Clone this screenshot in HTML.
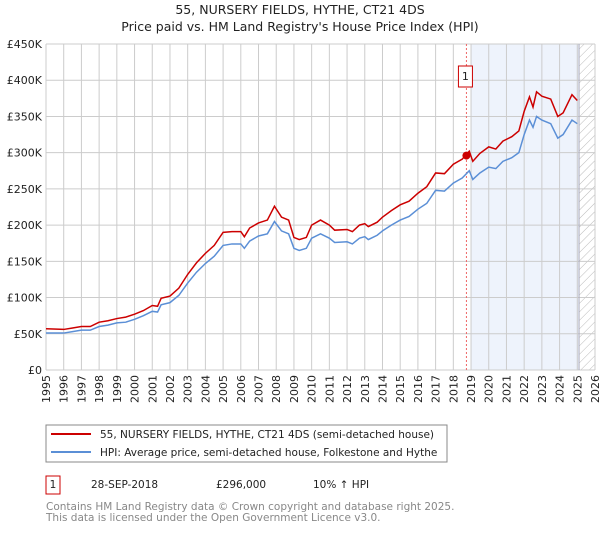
<!DOCTYPE html>
<html><head><meta charset="utf-8"><style>
body{margin:0;background:#fff;font-family:"Liberation Sans","DejaVu Sans",sans-serif;}
svg text{font-family:"DejaVu Sans","Liberation Sans",sans-serif;}
</style></head><body>
<svg id="chart" width="600" height="530" xmlns="http://www.w3.org/2000/svg">
<text x="300" y="14" text-anchor="middle" font-size="12.5" fill="#222">55, NURSERY FIELDS, HYTHE, CT21 4DS</text>
<text x="300" y="31" text-anchor="middle" font-size="12.5" fill="#222">Price paid vs. HM Land Registry's House Price Index (HPI)</text>
<defs><pattern id="hatch" width="6" height="6" patternUnits="userSpaceOnUse" patternTransform="rotate(45)"><line x1="0" y1="0" x2="0" y2="6" stroke="#bbb" stroke-width="1"/></pattern></defs>
<g id="grid"></g>
<g id="series"></g>
<g id="axes"></g>
<rect x="46" y="425" width="401" height="37" fill="#fff" stroke="#888"/>
<line x1="51" y1="434" x2="91" y2="434" stroke="#cc0000" stroke-width="2"/>
<text x="100" y="438" font-size="10.5" fill="#222">55, NURSERY FIELDS, HYTHE, CT21 4DS (semi-detached house)</text>
<line x1="51" y1="452" x2="91" y2="452" stroke="#5b8fd6" stroke-width="2"/>
<text x="100" y="456" font-size="10.5" fill="#222">HPI: Average price, semi-detached house, Folkestone and Hythe</text>
<rect x="46" y="476" width="14" height="18" fill="#fff" stroke="#cc0000"/>
<text x="53" y="488" text-anchor="middle" font-size="10.5" fill="#222">1</text>
<text x="91" y="488" font-size="10.5" fill="#222">28-SEP-2018</text>
<text x="216" y="488" font-size="10.5" fill="#222">£296,000</text>
<text x="313" y="488" font-size="10.5" fill="#222">10% ↑ HPI</text>
<text x="46" y="510" font-size="10.5" fill="#888">Contains HM Land Registry data © Crown copyright and database right 2025.</text>
<text x="46" y="521" font-size="10.5" fill="#888">This data is licensed under the Open Government Licence v3.0.</text>
</svg>
<script>
const hpiYears=[1995,1996,1996.5,1997,1997.5,1998,1998.5,1999,1999.5,2000,2000.5,2001,2001.3,2001.5,2002,2002.5,2003,2003.5,2004,2004.5,2005,2005.5,2006,2006.2,2006.5,2007,2007.5,2007.9,2008.3,2008.7,2009,2009.3,2009.7,2010,2010.5,2011,2011.3,2012,2012.3,2012.7,2013,2013.2,2013.7,2014,2014.5,2015,2015.5,2016,2016.5,2017,2017.5,2018,2018.5,2018.9,2019.1,2019.5,2020,2020.4,2020.8,2021.3,2021.7,2022,2022.3,2022.5,2022.7,2023,2023.5,2023.9,2024.2,2024.7,2025];
const hpiValues=[51,51,53,55,55,60,62,65,66,70,75,81,80,90,93,103,120,135,147,157,172,174,174,168,178,185,188,205,192,188,168,165,168,182,188,182,176,177,174,182,184,180,186,192,200,207,212,222,230,248,247,258,265,275,263,272,280,278,288,293,300,325,345,335,350,345,340,320,325,345,340];
const propValues=[57,56,58,60,60,66,68,71,73,77,82,89,88,99,102,113,132,148,161,172,190,191,191,184,196,203,207,226,211,207,183,180,183,200,207,200,193,194,191,200,202,198,204,211,220,228,233,244,253,272,271,284,291,302,288,299,308,305,316,322,330,357,377,363,384,378,374,350,355,380,372];
const yTicks=[0,50,100,150,200,250,300,350,400,450];
const yLabels=["£0","£50K","£100K","£150K","£200K","£250K","£300K","£350K","£400K","£450K"];
const xYears=[1995,1996,1997,1998,1999,2000,2001,2002,2003,2004,2005,2006,2007,2008,2009,2010,2011,2012,2013,2014,2015,2016,2017,2018,2019,2020,2021,2022,2023,2024,2025,2026];
const saleYear=[2018.74];const salePrice=[296];
const shadeRange=[2018.98,2025.1];
const X0=46,X1=595,Y0=370,Y1=44;
const xs=y=>X0+(y-1995)/(2026-1995)*(X1-X0);
const ys=v=>Y0-v/450*(Y0-Y1);
const NS="http://www.w3.org/2000/svg";
function mk(parent,tag,attrs){const e=document.createElementNS(NS,tag);for(const k in attrs)e.setAttribute(k,attrs[k]);parent.appendChild(e);return e;}
const grid=document.getElementById('grid'),ser=document.getElementById('series'),ax=document.getElementById('axes');
let e=mk(grid,'rect',{x:xs(shadeRange[0]),y:Y1,width:xs(shadeRange[1])-xs(shadeRange[0]),height:Y0-Y1,fill:'#eef3fc'});


e=mk(grid,'rect',{x:xs(shadeRange[1]),y:Y1,width:X1-xs(shadeRange[1]),height:Y0-Y1,fill:'url(#hatch)'});


yTicks.forEach((t,i)=>{
 let l=mk(grid,'line',{x1:X0,x2:X1,y1:ys(t),y2:ys(t),stroke:'#ccc'});
 
 
 let tx=mk(ax,'text',{x:X0-4,y:ys(t)+4,'text-anchor':'end','font-size':'11',fill:'#222'});tx.textContent=yLabels[i];
 
 
});
xYears.forEach(yr=>{
 let l=mk(grid,'line',{x1:xs(yr),x2:xs(yr),y1:Y1,y2:Y0,stroke:'#ccc'});
 
 
 let tx=mk(ax,'text',{x:0,y:0,'text-anchor':'end','font-size':'11',fill:'#222',transform:`translate(${xs(yr)+4},${Y0+5}) rotate(-90)`});tx.textContent=yr;
 
 
});
e=mk(grid,'line',{x1:xs(shadeRange[1]),x2:xs(shadeRange[1]),y1:Y1,y2:Y0,stroke:'#aab'});


e=mk(grid,'line',{x1:xs(saleYear[0]),x2:xs(saleYear[0]),y1:Y1,y2:Y0,stroke:'#e66','stroke-dasharray':'2,2'});


e=mk(ser,'polyline',{points:hpiYears.map((y,i)=>xs(y)+','+ys(hpiValues[i])).join(' '),fill:'none',stroke:'#5b8fd6','stroke-width':1.5});


e=mk(ser,'polyline',{points:hpiYears.map((y,i)=>xs(y)+','+ys(propValues[i])).join(' '),fill:'none',stroke:'#cc0000','stroke-width':1.5});


e=mk(ser,'circle',{cx:xs(saleYear[0]),cy:ys(salePrice[0]),r:4,fill:'#cc0000'});


e=mk(ser,'rect',{x:xs(saleYear[0])-8,y:66,width:14,height:21,fill:'#fff',stroke:'#cc0000'});


e=mk(ser,'text',{x:xs(saleYear[0])-1,y:80,'text-anchor':'middle','font-size':'11',fill:'#222'});e.textContent='1';


</script>
</body></html>
